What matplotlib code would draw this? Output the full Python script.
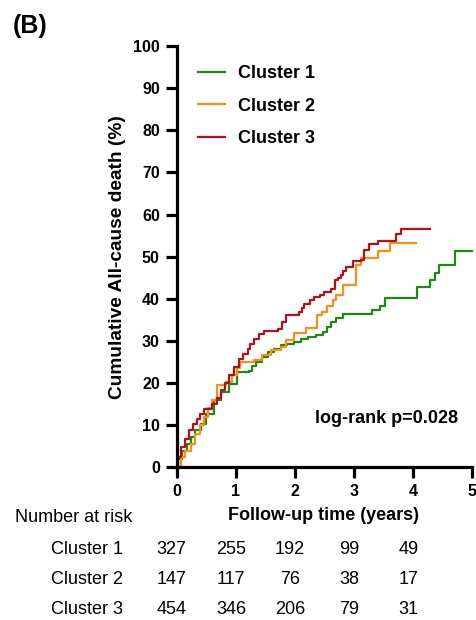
import matplotlib
matplotlib.use('Agg')
import matplotlib.pyplot as plt
import matplotlib.transforms as mtransforms

plt.rcParams['font.family'] = ['Liberation Sans', 'DejaVu Sans']

# cumulative all-cause death (%)
t1 = [0, 0.03, 0.1, 0.17, 0.24, 0.32, 0.41, 0.5, 0.63, 0.75, 0.89, 1.03, 1.22, 1.28, 1.34,
      1.44, 1.54, 1.65, 1.76, 1.87, 1.98, 2.1, 2.22, 2.35, 2.47, 2.55, 2.61, 2.7, 2.81,
      3.30, 3.44, 3.53, 4.07, 4.28, 4.36, 4.43, 4.70, 5.0]
y1 = [0, 2.0, 4.0, 5.6, 7.2, 8.8, 10.4, 12.8, 15.9, 18.0, 19.9, 22.6, 23.0, 24.0, 25.0,
      26.2, 27.4, 28.2, 29.0, 29.4, 29.8, 30.4, 31.0, 31.5, 32.1, 33.3, 34.5, 35.4, 36.3,
      37.3, 38.2, 40.3, 42.8, 44.4, 46.2, 48.1, 51.3, 51.3]

t2 = [0, 0.07, 0.15, 0.24, 0.32, 0.4, 0.46, 0.53, 0.6, 0.69, 0.83, 0.94, 1.02, 1.08, 1.31,
      1.45, 1.59, 1.76, 1.85, 1.99, 2.19, 2.38, 2.46, 2.55, 2.64, 2.69, 2.81, 3.04, 3.11,
      3.40, 3.61, 4.04]
y2 = [0, 2.4, 4.0, 5.6, 8.0, 10.0, 11.9, 14.0, 15.9, 19.5, 20.3, 21.9, 23.5, 25.0, 25.4,
      26.6, 27.8, 28.6, 30.2, 31.8, 33.1, 36.2, 37.0, 38.3, 39.7, 41.0, 43.2, 48.0, 49.6,
      51.3, 53.3, 53.3]

t3 = [0, 0.03, 0.07, 0.14, 0.21, 0.28, 0.35, 0.4, 0.46, 0.6, 0.68, 0.75, 0.82, 0.89, 0.97,
      1.06, 1.13, 1.2, 1.25, 1.31, 1.4, 1.48, 1.71, 1.78, 1.85, 2.07, 2.12, 2.16, 2.25, 2.33,
      2.42, 2.5, 2.61, 2.67, 2.72, 2.78, 2.82, 2.86, 2.98, 3.12, 3.17, 3.26, 3.40, 3.71, 3.80,
      4.28]
y3 = [0, 2.5, 4.8, 6.8, 8.8, 10.2, 11.6, 12.8, 13.9, 15.1, 16.6, 18.3, 20.1, 21.9, 23.8,
      25.8, 27.0, 28.2, 29.4, 30.6, 31.6, 32.5, 32.9, 34.5, 36.1, 36.9, 37.9, 38.9, 39.7, 40.5,
      41.0, 41.6, 42.4, 44.4, 45.0, 45.6, 46.6, 47.6, 48.9, 49.2, 51.5, 53.1, 53.8, 55.5, 56.7,
      56.7]

labels = ['Cluster 1', 'Cluster 2', 'Cluster 3']
colors = ['#1a8a12', '#ff8c1a', '#b0121b']

risk_times = [0, 1, 2, 3, 4]
risk1 = [327, 255, 192, 99, 49]
risk2 = [147, 117, 76, 38, 17]
risk3 = [454, 346, 206, 79, 31]

fig = plt.figure(figsize=(4.76, 6.2), dpi=100)
ax = fig.add_axes([0.3708, 0.246, 0.6218, 0.6798])

for t, y, lab, c in zip([t1, t2, t3], [y1, y2, y3], labels, colors):
    ax.step(t, y, where='post', color=c, lw=1.6, label=lab, clip_on=False)

ax.set_xlim(0, 5)
ax.set_ylim(0, 100)
ax.set_xticks(range(6))
ax.set_yticks(range(0, 101, 10))
for s in ['top', 'right']:
    ax.spines[s].set_visible(False)
for s in ['left', 'bottom']:
    ax.spines[s].set_linewidth(2.3)
ax.tick_params(axis='both', width=2.3, length=8, labelsize=11.5, pad=4)
for lbl in ax.get_xticklabels() + ax.get_yticklabels():
    lbl.set_fontweight('bold')

leg = ax.legend(loc='upper left', bbox_to_anchor=(0.073, 0.955), frameon=False,
                handlelength=1.5, handletextpad=0.7, labelspacing=0.87,
                borderpad=0, borderaxespad=0,
                prop={'weight': 'bold', 'size': 13})

ax.text(3.55, 11.7, 'log-rank p=0.028', ha='center', va='center',
        fontsize=13, fontweight='bold')

fig.text(118 / 476, 1 - 257 / 620, 'Cumulative All-cause death (%)', rotation=90,
         ha='center', va='center', fontsize=13.8, fontweight='bold')
fig.text(30 / 476, 1 - 26 / 620, '(B)', ha='center', va='center',
         fontsize=18, fontweight='bold')

# number at risk table
tr = mtransforms.blended_transform_factory(ax.transData, fig.transFigure)
fig.text(324 / 476, 1 - 515 / 620, 'Follow-up time (years)', ha='center', va='center',
         fontsize=13, fontweight='bold')
fig.text(15 / 476, 1 - 517 / 620, 'Number at risk', ha='left', va='center', fontsize=13)
row_y = [550, 580, 610]
for lab, risk, py in zip(labels, [risk1, risk2, risk3], row_y):
    fig.text(123 / 476, 1 - py / 620, lab, ha='right', va='center', fontsize=13)
    for t, n in zip(risk_times, risk):
        ax.text(t - 0.08, 1 - py / 620, str(n), transform=tr, ha='center', va='center',
                fontsize=13)

fig.savefig('out.png', dpi=100)
